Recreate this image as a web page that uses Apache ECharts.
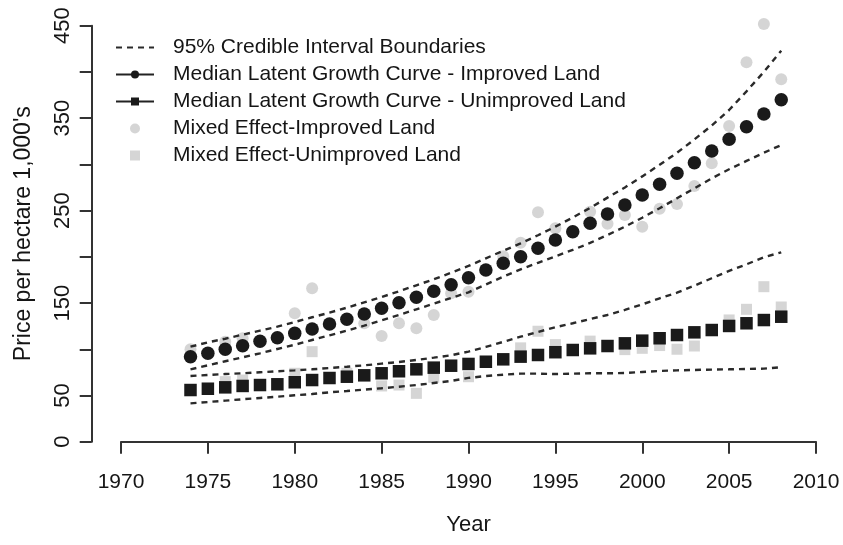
<!DOCTYPE html>
<html>
<head>
<meta charset="utf-8">
<script src="https://cdn.jsdelivr.net/npm/echarts@6/dist/echarts.min.js"></script>
<style>
html,body{margin:0;padding:0;background:#fff;}
#chart{width:843px;height:545px;}
</style>
</head>
<body>
<div id="chart"></div>
<script>
// ---- data ----
const years = [1974,1975,1976,1977,1978,1979,1980,1981,1982,1983,1984,1985,1986,1987,1988,1989,1990,1991,1992,1993,1994,1995,1996,1997,1998,1999,2000,2001,2002,2003,2004,2005,2006,2007,2008];

const medianImproved = [92.0,95.6,99.9,103.9,108.6,112.5,117.2,121.9,127.3,132.4,138.1,144.3,150.4,156.2,162.7,169.8,177.4,185.7,193.0,200.1,209.2,218.2,227.2,236.3,246.3,256.1,266.9,278.4,290.4,301.8,314.5,327.1,340.8,354.5,369.8];
const medianUnimproved = [55.9,57.3,58.8,60.3,61.3,62.1,64.3,66.7,68.9,70.3,71.8,74.0,76.2,78.3,80.1,82.2,84.1,86.5,89.1,92.0,93.8,96.8,99.2,101.0,103.5,106.4,109.3,111.9,115.4,118.3,120.8,125.2,128.1,131.6,135.2];

const upperImproved = [102.8,107.5,111.4,115.8,120.1,124.4,129.5,134.6,139.6,145.0,150.8,156.5,162.7,169.2,175.7,182.8,190.1,198.4,206.5,214.6,223.3,232.6,242.5,253.0,264.0,275.0,287.0,299.5,312.5,327.0,342.0,358.8,379.0,400.0,423.0];
const lowerImproved = [78.3,82.6,87.0,91.3,95.6,100.3,104.9,110.0,115.1,120.1,125.5,131.3,137.1,143.2,149.3,155.5,161.6,170.0,178.6,186.5,193.5,200.5,207.5,215.0,223.6,232.6,242.3,252.5,263.3,274.1,284.9,294.7,303.7,312.6,320.9];
const upperUnimproved = [71.1,72.2,73.2,74.0,75.1,76.2,77.2,78.3,79.7,81.1,82.6,84.4,86.2,88.4,90.9,93.5,97.5,102.5,108.0,113.6,118.7,123.8,128.1,132.7,137.1,142.5,148.6,155.1,161.2,168.8,176.8,184.7,191.9,199.5,204.9];
const lowerUnimproved = [41.5,42.9,44.4,45.9,47.3,48.7,50.2,51.6,53.4,54.8,56.3,57.8,59.5,61.3,63.5,65.7,69.0,71.0,72.5,73.6,73.6,73.2,73.6,74.0,74.0,74.3,75.4,76.5,77.2,77.6,78.0,78.3,78.7,79.0,80.5];

const mixedImprovedYears = [1974,1976,1977,1980,1981,1984,1985,1986,1987,1988,1989,1990,1992,1993,1994,1995,1997,1998,1999,2000,2001,2002,2003,2004,2005,2006,2007,2008];
const mixedImprovedValues = [100,108,112,138.9,166,128,114.3,128.1,122.6,137.1,160.5,162.3,200.5,215.3,248.2,230.8,248.8,235.8,245.2,232.6,252,257,276.6,301.2,341.5,410.4,451.9,392.0];

const mixedUnimprovedYears = [1976,1977,1980,1981,1983,1985,1986,1987,1988,1990,1993,1994,1995,1997,1999,2000,2001,2002,2003,2005,2006,2007,2008];
const mixedUnimprovedValues = [65,66.7,74,97.4,74,60.3,61.3,52.3,69.7,70.3,101.5,119.5,105,108.8,99.6,101,104,100,103.5,131.7,143.2,167.7,145.7];

const xTicks = [1970,1975,1980,1985,1990,1995,2000,2005,2010];
const yTickLabels = [0,50,150,250,350,450];

const seriesNames = {
  ci: '95% Credible Interval Boundaries',
  medI: 'Median Latent Growth Curve - Improved Land',
  medU: 'Median Latent Growth Curve - Unimproved Land',
  mixI: 'Mixed Effect-Improved Land',
  mixU: 'Mixed Effect-Unimproved Land'
};

// ---- build ----
const pair = (xs, ys) => xs.map((x, i) => [x, ys[i]]);
const FONT = 'Liberation Sans, Arial, Helvetica, sans-serif';
const TXT = '#151515';
const chart = echarts.init(document.getElementById('chart'), null, {renderer: 'canvas'});

const ciStyle = {color: '#2a2a2a', width: 2.4, type: [6, 5]};
function ciSeries(vals) {
  return {
    name: seriesNames.ci, type: 'line', data: pair(years, vals),
    symbol: 'none', smooth: false, z: 3,
    lineStyle: ciStyle, itemStyle: {color: 'rgba(0,0,0,0)'},
    emphasis: {disabled: true}, animation: false
  };
}

const option = {
  animation: false,
  backgroundColor: '#fff',
  textStyle: {fontFamily: FONT},
  grid: {left: 121, right: 27, top: 25.7, bottom: 103.3, containLabel: false},
  legend: {
    orient: 'vertical', left: 115, top: 37, padding: 0,
    itemWidth: 38, itemHeight: 10, itemGap: 6,
    textStyle: {fontSize: 21, color: TXT, fontFamily: FONT, padding: [0, 0, 0, 14]},
    selectedMode: false,
    data: [
      {name: seriesNames.ci},
      {name: seriesNames.medI, lineStyle: {width: 2, color: '#222', opacity: 1, type: 'solid'}},
      {name: seriesNames.medU, lineStyle: {width: 2, color: '#222', opacity: 1, type: 'solid'}},
      {name: seriesNames.mixI, icon: 'circle'},
      {name: seriesNames.mixU, icon: 'path://M0,0h10v10h-10z'}
    ]
  },
  xAxis: {
    type: 'value', min: xTicks[0], max: xTicks[xTicks.length - 1], interval: 5,
    offset: 17.6,
    name: 'Year', nameLocation: 'middle', nameGap: 55,
    nameTextStyle: {fontSize: 22, color: TXT, fontFamily: FONT},
    axisLine: {show: true, lineStyle: {color: '#333', width: 2}},
    axisTick: {show: true, length: 12, lineStyle: {color: '#333', width: 2}},
    axisLabel: {fontSize: 21, color: TXT, margin: 12, fontFamily: FONT,
      formatter: v => String(v)},
    splitLine: {show: false}
  },
  yAxis: {
    type: 'value', min: 0, max: 450, interval: 50,
    offset: 29.3,
    name: "Price per hectare 1,000's", nameLocation: 'middle', nameGap: 57,
    nameTextStyle: {fontSize: 23, color: TXT, fontFamily: FONT},
    axisLine: {show: true, lineStyle: {color: '#333', width: 2}},
    axisTick: {show: true, length: 12, lineStyle: {color: '#333', width: 2}},
    axisLabel: {fontSize: 22, color: TXT, margin: 18, rotate: 90, fontFamily: FONT,
      formatter: v => yTickLabels.indexOf(v) >= 0 ? String(v) : ''},
    splitLine: {show: false}
  },
  series: [
    {
      name: seriesNames.mixI, type: 'scatter', data: pair(mixedImprovedYears, mixedImprovedValues),
      symbol: 'circle', symbolSize: 12, clip: false, z: 1,
      itemStyle: {color: '#cacaca'}, emphasis: {disabled: true}
    },
    {
      name: seriesNames.mixU, type: 'scatter', data: pair(mixedUnimprovedYears, mixedUnimprovedValues),
      symbol: 'rect', symbolSize: 11, clip: false, z: 1,
      itemStyle: {color: '#cacaca'}, emphasis: {disabled: true}
    },
    ciSeries(upperImproved),
    ciSeries(lowerImproved),
    ciSeries(upperUnimproved),
    ciSeries(lowerUnimproved),
    {
      name: seriesNames.medI, type: 'line', data: pair(years, medianImproved),
      symbol: 'circle', symbolSize: 13.5, showAllSymbol: true, z: 5,
      lineStyle: {width: 0, color: '#222'}, itemStyle: {color: '#1a1a1a'},
      emphasis: {disabled: true}
    },
    {
      name: seriesNames.medU, type: 'line', data: pair(years, medianUnimproved),
      symbol: 'rect', symbolSize: 12.5, showAllSymbol: true, z: 5,
      lineStyle: {width: 0, color: '#222'}, itemStyle: {color: '#1a1a1a'},
      emphasis: {disabled: true}
    }
  ]
};
chart.setOption(option);
</script>
</body>
</html>
